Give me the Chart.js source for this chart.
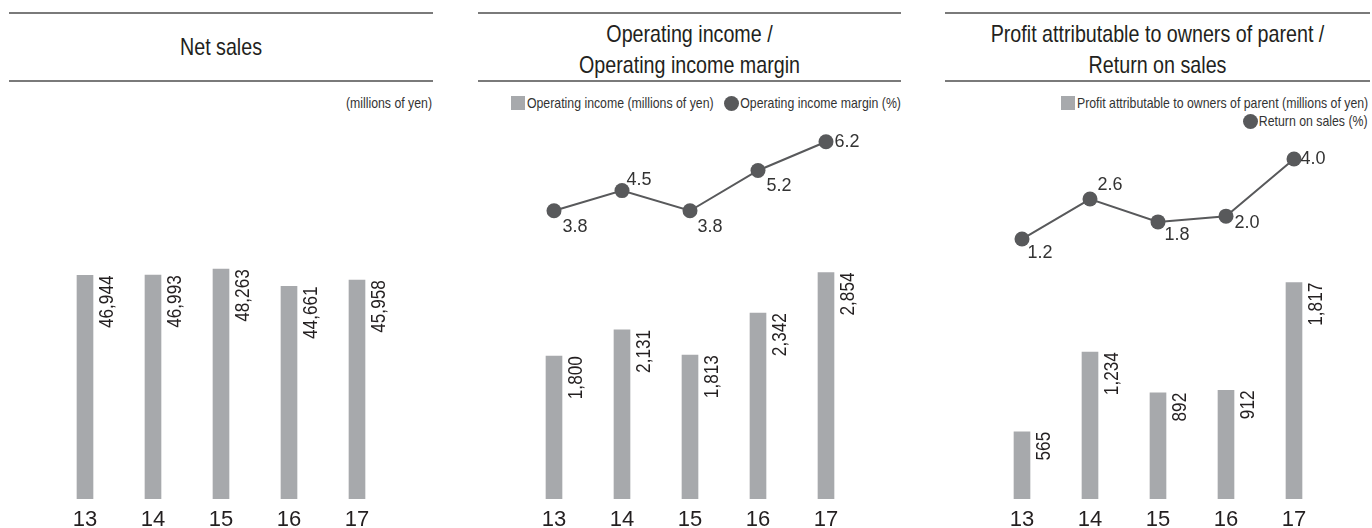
<!DOCTYPE html>
<html>
<head>
<meta charset="utf-8">
<script src="https://cdn.jsdelivr.net/npm/chart.js@4.4.1/dist/chart.umd.min.js"></script>
<style>
  html, body { margin: 0; padding: 0; background: #ffffff; }
  #wrap { position: relative; width: 1372px; height: 528px; overflow: hidden; background: #fff; }
  .hline { position: absolute; height: 2px; background: #7a7a7a; }
  .title { position: absolute; text-align: center; color: #231f20;
           font-family: "Liberation Sans", Arial, Helvetica, sans-serif;
           font-size: 24px; line-height: 31px; white-space: nowrap;
           transform: scaleX(0.82); transform-origin: center center; }
  .legend { position: absolute; display: flex; justify-content: flex-end; align-items: center;
            color: #333333; font-family: "Liberation Sans", Arial, Helvetica, sans-serif;
            font-size: 15px; line-height: 18px; height: 18px; white-space: nowrap; }
  .legend > * { flex-shrink: 0; }
  .narrow { display: inline-block; }
  .sq { display: inline-block; width: 14px; height: 14px; background: #a7a9ac; margin-right: 2px; }
  .dot { display: inline-block; width: 15px; height: 15px; border-radius: 50%; background: #58595b; margin-right: 1px; }
  .gap { display: inline-block; width: 11px; }
  canvas { position: absolute; }
</style>
</head>
<body>
<div id="wrap">
  <!-- Panel 1 -->
  <div class="hline" style="left:9px; width:424px; top:12px;"></div>
  <div class="title" style="left:9px; width:424px; top:31px;">Net sales</div>
  <div class="hline" style="left:9px; width:424px; top:80px;"></div>
  <div class="legend" style="left:9px; width:423px; top:94px;"><span class="narrow">(millions of yen)</span></div>
  <canvas id="c1" width="420" height="410" style="left:11px; top:118px;"></canvas>

  <!-- Panel 2 -->
  <div class="hline" style="left:478px; width:423px; top:12px;"></div>
  <div class="title" style="left:478px; width:423px; top:18px;">Operating income /<br>Operating income margin</div>
  <div class="hline" style="left:478px; width:423px; top:80px;"></div>
  <div class="legend" style="left:478px; width:423px; top:94px;">
    <span class="sq"></span><span class="narrow">Operating income (millions of yen)</span><span class="gap"></span>
    <span class="dot"></span><span class="narrow">Operating income margin (%)</span>
  </div>
  <canvas id="c2" width="420" height="410" style="left:480px; top:118px;"></canvas>

  <!-- Panel 3 -->
  <div class="hline" style="left:945px; width:425px; top:12px;"></div>
  <div class="title" style="left:945px; width:425px; top:18px;">Profit attributable to owners of parent /<br>Return on sales</div>
  <div class="hline" style="left:945px; width:425px; top:80px;"></div>
  <div class="legend" style="left:945px; width:423px; top:94px;">
    <span class="sq"></span><span class="narrow">Profit attributable to owners of parent (millions of yen)</span>
  </div>
  <div class="legend" style="left:945px; width:423px; top:112px;">
    <span class="dot"></span><span class="narrow">Return on sales (%)</span>
  </div>
  <canvas id="c3" width="420" height="410" style="left:948px; top:118px;"></canvas>
</div>

<script>
// ---- Data ----
const years = ['13', '14', '15', '16', '17'];
const netSales = [46944, 46993, 48263, 44661, 45958];
const operatingIncome = [1800, 2131, 1813, 2342, 2854];
const operatingMargin = [3.8, 4.5, 3.8, 5.2, 6.2];
const profitParent = [565, 1234, 892, 912, 1817];
const returnOnSales = [1.2, 2.6, 1.8, 2.0, 4.0];

// ---- Styles ----
const BAR_COLOR = '#a7a9ac';
const LINE_COLOR = '#58595b';
const TEXT_COLOR = '#231f20';
const CONDENSE = 0.82;
const REGULAR = '"Liberation Sans", Arial, Helvetica, sans-serif';
const marginLabelDx = [8.5, 4.5, 7.5, 8.5, 8.5];
const marginLabelDy = [16, -11, 16, 16, 0];
const rosLabelDx = [5.5, 7.5, 6.5, 8.5, 6.5];
const rosLabelDy = [14, -14, 13, 7, 0];

// condense HTML legend texts (no narrow face installed)
document.querySelectorAll('.narrow').forEach(el => {
  const w = el.offsetWidth;
  el.style.transform = 'scaleX(' + CONDENSE + ')';
  el.style.transformOrigin = 'right center';
  el.style.marginLeft = (-w * (1 - CONDENSE)) + 'px';
});

const valueLabels = {
  id: 'valueLabels',
  afterDatasetsDraw(chart, args, opts) {
    const ctx = chart.ctx;
    chart.data.datasets.forEach((ds, i) => {
      const meta = chart.getDatasetMeta(i);
      meta.data.forEach((el, j) => {
        const v = ds.data[j];
        ctx.save();
        ctx.fillStyle = TEXT_COLOR;
        if (meta.type === 'bar') {
          const p = el.getProps(['x', 'y', 'width'], true);
          ctx.translate(p.x + p.width / 2 + 19.5, p.y);
          ctx.rotate(-Math.PI / 2);
          ctx.scale(CONDENSE, 1);
          ctx.font = '21px ' + REGULAR;
          ctx.textAlign = 'right';
          ctx.textBaseline = 'alphabetic';
          ctx.fillText(v.toLocaleString('en-US'), 0, 0);
        } else {
          const dx = (opts.dx || [])[j] || 8;
          const dy = (opts.dy || [])[j] || 0;
          ctx.font = '18px ' + REGULAR;
          ctx.fillStyle = '#333333';
          ctx.textAlign = 'left';
          ctx.textBaseline = 'middle';
          ctx.fillText(v.toFixed(1), el.x + dx, el.y + dy);
        }
        ctx.restore();
      });
    });
  }
};

function xScale() {
  return {
    type: 'category',
    offset: true,
    grid: { display: false, drawTicks: false },
    border: { display: false },
    ticks: { color: TEXT_COLOR, font: { family: REGULAR, size: 22 }, padding: 8, maxRotation: 0, autoSkip: false },
    afterFit(s) { s.height = 29; }
  };
}

function makeChart(id, barData, barMax, lineData, lineMin, lineMax, dx, dy) {
  const datasets = [{
    type: 'bar',
    data: barData,
    backgroundColor: BAR_COLOR,
    barThickness: 16,
    yAxisID: 'y',
    order: 2
  }];
  const scales = {
    x: xScale(),
    y: { display: false, min: 0, max: barMax }
  };
  if (lineData) {
    datasets.push({
      type: 'line',
      data: lineData,
      borderColor: LINE_COLOR,
      borderWidth: 2,
      pointRadius: 7.5,
      pointBackgroundColor: LINE_COLOR,
      pointBorderWidth: 0,
      tension: 0,
      yAxisID: 'y2',
      order: 1,
      clip: false
    });
    scales.y2 = { display: false, min: lineMin, max: lineMax };
  }
  return new Chart(document.getElementById(id), {
    data: { labels: years, datasets },
    options: {
      responsive: false,
      animation: false,
      layout: { autoPadding: false, padding: { left: 40, right: 40, top: 0, bottom: 0 } },
      scales,
      plugins: {
        legend: { display: false },
        tooltip: { enabled: false },
        valueLabels: { dx, dy }
      }
    },
    plugins: [valueLabels]
  });
}

makeChart('c1', netSales, 80000, null);
makeChart('c2', operatingIncome, 4800, operatingMargin, -6.226, 7.026, marginLabelDx, marginLabelDy);
makeChart('c3', profitParent, 3200, returnOnSales, -7.9, 5.436, rosLabelDx, rosLabelDy);
</script>
</body>
</html>
